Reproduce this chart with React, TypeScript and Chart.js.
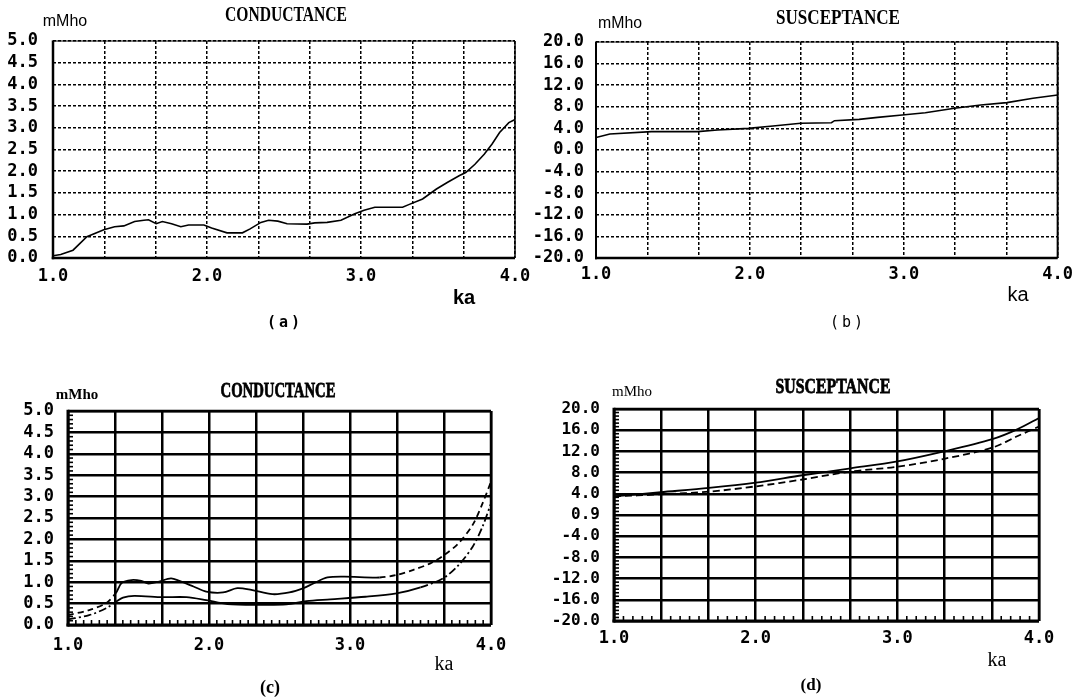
import React, { useEffect, useRef } from 'react';
import { Chart, registerables } from 'chart.js';

Chart.register(...registerables);

// ---------- shared axis definitions ----------
const X_GRID = [1, 1.3333, 1.6667, 2, 2.3333, 2.6667, 3, 3.3333, 3.6667, 4];
const X_TICK_LABELS = ['1.0', '', '', '2.0', '', '', '3.0', '', '', '4.0'];
const G_TICKS = [0, 0.5, 1, 1.5, 2, 2.5, 3, 3.5, 4, 4.5, 5];
const G_TICK_LABELS = ['0.0', '0.5', '1.0', '1.5', '2.0', '2.5', '3.0', '3.5', '4.0', '4.5', '5.0'];
const B_TICKS = [-20, -16, -12, -8, -4, 0, 4, 8, 12, 16, 20];
const B_TICK_LABELS_B = ['-20.0', '-16.0', '-12.0', '-8.0', '-4.0', '0.0', '4.0', '8.0', '12.0', '16.0', '20.0'];
const B_TICK_LABELS_D = ['-20.0', '-16.0', '-12.0', '-8.0', '-4.0', '0.9', '4.0', '8.0', '12.0', '16.0', '20.0'];

const TITLE_G = 'CONDUCTANCE';
const TITLE_B = 'SUSCEPTANCE';
const UNIT = 'mMho';
const X_TITLE = 'ka';
const CAPTIONS = ['(a)', '(b)', '(c)', '(d)'];

// ---------- (a) conductance ----------
const KA_A = [1.0, 1.05, 1.13, 1.22, 1.33, 1.4, 1.46, 1.53, 1.59, 1.62, 1.67, 1.71, 1.77, 1.83, 1.88, 1.98, 2.03, 2.13, 2.23, 2.28, 2.35, 2.4, 2.46, 2.52, 2.65, 2.7, 2.78, 2.87, 2.96, 3.02, 3.09, 3.27, 3.31, 3.4, 3.49, 3.56, 3.64, 3.68, 3.74, 3.8, 3.85, 3.9, 3.96, 4.0];
const G_A = [0.05, 0.08, 0.18, 0.49, 0.65, 0.72, 0.74, 0.84, 0.87, 0.88, 0.79, 0.84, 0.79, 0.72, 0.76, 0.76, 0.69, 0.58, 0.58, 0.67, 0.82, 0.87, 0.85, 0.79, 0.78, 0.81, 0.82, 0.87, 1.02, 1.1, 1.17, 1.17, 1.23, 1.36, 1.59, 1.74, 1.9, 1.97, 2.16, 2.39, 2.62, 2.89, 3.12, 3.19];

// ---------- (b) susceptance ----------
const KA_B = [1.0, 1.09, 1.36, 1.66, 1.79, 1.99, 2.15, 2.33, 2.53, 2.55, 2.71, 2.83, 2.99, 3.14, 3.33, 3.5, 3.67, 3.84, 4.0];
const B_B = [2.3, 2.96, 3.4, 3.4, 3.7, 4.0, 4.44, 4.94, 5.06, 5.43, 5.68, 6.05, 6.48, 6.91, 7.72, 8.33, 8.77, 9.57, 10.19];

// ---------- (c) conductance, two curves ----------
const KA_C_UPPER = [1.0, 1.15, 1.27, 1.34, 1.38, 1.45, 1.52, 1.57, 1.64, 1.73, 1.79, 1.89, 1.98, 2.1, 2.2, 2.3, 2.45, 2.57, 2.67, 2.74, 2.84, 2.96, 3.21, 3.33, 3.45, 3.57, 3.67, 3.77, 3.87, 3.94, 4.0];
const G_C_UPPER = [0.23, 0.35, 0.51, 0.75, 0.98, 1.05, 1.03, 0.97, 1.01, 1.09, 1.03, 0.9, 0.78, 0.76, 0.86, 0.82, 0.72, 0.76, 0.86, 0.97, 1.11, 1.13, 1.11, 1.17, 1.29, 1.44, 1.64, 1.91, 2.34, 2.84, 3.35];
const KA_C_LOWER = [1.0, 1.15, 1.27, 1.34, 1.39, 1.47, 1.67, 1.84, 1.98, 2.13, 2.35, 2.55, 2.69, 2.86, 3.11, 3.33, 3.5, 3.66, 3.77, 3.87, 3.94, 4.0];
const G_C_LOWER = [0.13, 0.23, 0.39, 0.54, 0.64, 0.68, 0.65, 0.65, 0.58, 0.49, 0.47, 0.48, 0.56, 0.6, 0.66, 0.74, 0.88, 1.09, 1.4, 1.83, 2.3, 2.84];

// ---------- (d) susceptance, two curves ----------
const KA_D = [1.0, 1.33, 1.67, 2.0, 2.33, 2.67, 3.0, 3.33, 3.67, 3.85, 4.0];
const B_D_SOLID = [3.5, 4.3, 5.1, 6.1, 7.5, 8.8, 10.1, 12.0, 14.3, 16.2, 18.3];
const B_D_DASHED = [3.5, 3.9, 4.4, 5.4, 6.7, 8.2, 9.1, 10.6, 12.7, 14.9, 16.7];

const pts = (xs: number[], ys: number[]) => xs.map((x, i) => ({ x, y: ys[i] }));

type TextItem = { text: string; x: number; y: number; font: string; maxWidth?: number; stroke?: number; spacing?: number };
type Panel = {
  left: number; top: number; w: number; h: number;
  area: { l: number; t: number; r: number; b: number };
  yTicks: number[]; yLabels: string[];
  yFont: number; yPad: number; xFont: number; xPad: number;
  gridWidth: number; gridDash: number[];
  frame: { left: number; bottom: number; top: number; right: number };
  minor?: { x: number; y: number; len: number };
  datasets: any[];
  texts: TextItem[];
};

const XH = 40;
const MONO = '"DejaVu Sans Mono"';

const PANELS: Panel[] = [
  {
    left: 0, top: 0, w: 540, h: 340,
    area: { l: 53, t: 41, r: 515, b: 258 },
    yTicks: G_TICKS, yLabels: G_TICK_LABELS,
    yFont: 17, yPad: 15, xFont: 17, xPad: 8,
    gridWidth: 1.5, gridDash: [3, 2],
    frame: { left: 2.5, bottom: 2.5, top: 1.2, right: 1.5 },
    datasets: [
      { data: pts(KA_A, G_A), borderColor: '#000', borderWidth: 1.6, pointRadius: 0, tension: 0 },
    ],
    texts: [
      { text: TITLE_G, x: 286, y: 16, font: 'bold 20px "Liberation Serif"', maxWidth: 122 },
      { text: UNIT, x: 65, y: 22, font: '16px "Liberation Sans"', maxWidth: 45 },
      { text: X_TITLE, x: 464, y: 298, font: 'bold 20px "Liberation Sans"' },
      { text: CAPTIONS[0], x: 285, y: 323, font: `bold 15px ${MONO}`, spacing: 3 },
    ],
  },
  {
    left: 530, top: 0, w: 549, h: 340,
    area: { l: 596, t: 42, r: 1063, b: 258 },
    yTicks: B_TICKS, yLabels: B_TICK_LABELS_B,
    yFont: 17, yPad: 12, xFont: 17, xPad: 6,
    gridWidth: 1.5, gridDash: [3, 2],
    frame: { left: 2, bottom: 2.5, top: 1.2, right: 2 },
    datasets: [
      { data: pts(KA_B, B_B), borderColor: '#000', borderWidth: 1.6, pointRadius: 0, tension: 0 },
    ],
    texts: [
      { text: TITLE_B, x: 308, y: 19, font: 'bold 20px "Liberation Serif"', maxWidth: 124 },
      { text: UNIT, x: 90, y: 24, font: '16px "Liberation Sans"', maxWidth: 44 },
      { text: X_TITLE, x: 488, y: 295, font: '20px "Liberation Sans"' },
      { text: CAPTIONS[1], x: 318, y: 323, font: `15px ${MONO}`, spacing: 3 },
    ],
  },
  {
    left: 0, top: 365, w: 530, h: 335,
    area: { l: 68, t: 411, r: 491, b: 625 },
    yTicks: G_TICKS, yLabels: G_TICK_LABELS,
    yFont: 17, yPad: 14, xFont: 17, xPad: 10,
    gridWidth: 2.5, gridDash: [],
    frame: { left: 3, bottom: 3, top: 2.5, right: 2.5 },
    minor: { x: 6, y: 5, len: 5 },
    datasets: [
      {
        data: pts(KA_C_UPPER, G_C_UPPER), borderColor: '#000', borderWidth: 1.8, pointRadius: 0, tension: 0.3,
        segment: { borderDash: (c: any) => (c.p0.parsed.x < 1.34 || c.p0.parsed.x >= 3.0 ? [6, 4] : undefined) },
      },
      {
        data: pts(KA_C_LOWER, G_C_LOWER), borderColor: '#000', borderWidth: 1.8, pointRadius: 0, tension: 0.3,
        segment: { borderDash: (c: any) => (c.p0.parsed.x < 1.34 || c.p0.parsed.x >= 3.45 ? [8, 3, 2, 3] : undefined) },
      },
    ],
    texts: [
      { text: TITLE_G, x: 278, y: 27, font: 'bold 21px "Liberation Serif"', maxWidth: 115, stroke: 0.8 },
      { text: UNIT, x: 77, y: 30, font: 'bold 15px "Liberation Serif"', maxWidth: 43 },
      { text: X_TITLE, x: 444, y: 300, font: '20px "Liberation Serif"' },
      { text: CAPTIONS[2], x: 270, y: 323, font: 'bold 18px "Liberation Serif"' },
    ],
  },
  {
    left: 530, top: 365, w: 549, h: 335,
    area: { l: 614, t: 409, r: 1039, b: 621 },
    yTicks: B_TICKS, yLabels: B_TICK_LABELS_D,
    yFont: 16, yPad: 14, xFont: 17, xPad: 7,
    gridWidth: 2.5, gridDash: [],
    frame: { left: 3, bottom: 3, top: 2.5, right: 2.5 },
    minor: { x: 5, y: 6, len: 5 },
    datasets: [
      { data: pts(KA_D, B_D_SOLID), borderColor: '#000', borderWidth: 1.8, pointRadius: 0, tension: 0.3 },
      { data: pts(KA_D, B_D_DASHED), borderColor: '#000', borderWidth: 1.8, pointRadius: 0, tension: 0.3, borderDash: [7, 4] },
    ],
    texts: [
      { text: TITLE_B, x: 303, y: 23, font: 'bold 21px "Liberation Serif"', maxWidth: 115, stroke: 0.8 },
      { text: UNIT, x: 102, y: 27, font: '15px "Liberation Serif"', maxWidth: 40 },
      { text: X_TITLE, x: 467, y: 296, font: '20px "Liberation Serif"' },
      { text: CAPTIONS[3], x: 281, y: 321, font: 'bold 17px "Liberation Serif"' },
    ],
  },
];

function makeDecor(p: Panel) {
  return {
    id: 'decor',
    beforeDatasetsDraw(chart: any) {
      const { ctx, chartArea: a } = chart;
      ctx.save();
      ctx.strokeStyle = '#000';
      ctx.setLineDash([]);
      const line = (x1: number, y1: number, x2: number, y2: number, w: number) => {
        if (!w) return;
        ctx.lineWidth = w;
        ctx.beginPath();
        ctx.moveTo(x1, y1);
        ctx.lineTo(x2, y2);
        ctx.stroke();
      };
      const f = p.frame;
      line(a.left, a.top, a.right, a.top, f.top);
      line(a.right, a.top, a.right, a.bottom, f.right);
      line(a.left, a.top - f.top / 2, a.left, a.bottom + f.bottom / 2, f.left);
      line(a.left - f.left / 2, a.bottom, a.right, a.bottom, f.bottom);
      if (p.minor) {
        const xs = chart.scales.x;
        const ys = chart.scales.y;
        const xt = xs.ticks.map((t: any) => t.value);
        for (let i = 0; i < xt.length - 1; i++) {
          for (let k = 1; k < p.minor.x; k++) {
            const px = xs.getPixelForValue(xt[i] + ((xt[i + 1] - xt[i]) * k) / p.minor.x);
            line(px, a.bottom, px, a.bottom - p.minor.len, 1.6);
          }
        }
        const yt = ys.ticks.map((t: any) => t.value);
        for (let i = 0; i < yt.length - 1; i++) {
          for (let k = 1; k < p.minor.y; k++) {
            const py = ys.getPixelForValue(yt[i] + ((yt[i + 1] - yt[i]) * k) / p.minor.y);
            line(a.left, py, a.left + p.minor.len, py, 1.6);
          }
        }
      }
      ctx.restore();
    },
    afterDraw(chart: any) {
      const ctx = chart.ctx;
      ctx.save();
      ctx.fillStyle = '#000';
      ctx.strokeStyle = '#000';
      ctx.textAlign = 'center';
      ctx.textBaseline = 'middle';
      for (const t of p.texts) {
        ctx.font = t.font;
        (ctx as any).letterSpacing = t.spacing ? `${t.spacing}px` : '0px';
        if (t.maxWidth) ctx.fillText(t.text, t.x, t.y, t.maxWidth);
        else ctx.fillText(t.text, t.x, t.y);
        if (t.stroke) {
          ctx.lineWidth = t.stroke;
          if (t.maxWidth) ctx.strokeText(t.text, t.x, t.y, t.maxWidth);
          else ctx.strokeText(t.text, t.x, t.y);
        }
      }
      ctx.restore();
    },
  };
}

function buildConfig(p: Panel): any {
  const yVals = p.yTicks;
  return {
    type: 'line',
    data: { datasets: p.datasets.map((d) => ({ ...d, fill: false })) },
    plugins: [makeDecor(p)],
    options: {
      animation: false,
      responsive: false,
      devicePixelRatio: 1,
      layout: {
        padding: {
          top: p.area.t - p.top,
          left: 0,
          right: p.left + p.w - p.area.r,
          bottom: p.top + p.h - p.area.b - XH,
        },
      },
      plugins: { legend: { display: false }, tooltip: { enabled: false }, title: { display: false } },
      scales: {
        x: {
          type: 'linear',
          min: X_GRID[0],
          max: X_GRID[X_GRID.length - 1],
          afterBuildTicks: (s: any) => { s.ticks = X_GRID.map((v) => ({ value: v })); },
          afterFit: (s: any) => { s.height = XH; },
          grid: { color: '#000', lineWidth: p.gridWidth, drawTicks: false },
          border: { display: false, dash: p.gridDash },
          ticks: {
            autoSkip: false, maxRotation: 0, minRotation: 0, color: '#000', padding: p.xPad,
            font: { family: 'DejaVu Sans Mono', size: p.xFont, weight: 'bold' },
            callback: (_v: any, i: number) => X_TICK_LABELS[i],
          },
        },
        y: {
          type: 'linear',
          min: yVals[0],
          max: yVals[yVals.length - 1],
          afterBuildTicks: (s: any) => { s.ticks = yVals.map((v) => ({ value: v })); },
          afterFit: (s: any) => { s.width = p.area.l - p.left; },
          grid: { color: '#000', lineWidth: p.gridWidth, drawTicks: false },
          border: { display: false, dash: p.gridDash },
          ticks: {
            autoSkip: false, color: '#000', padding: p.yPad,
            font: { family: 'DejaVu Sans Mono', size: p.yFont, weight: 'bold' },
            callback: (_v: any, i: number) => p.yLabels[i],
          },
        },
      },
    },
  };
}

function PanelChart({ panel }: { panel: Panel }) {
  const ref = useRef<HTMLCanvasElement | null>(null);
  useEffect(() => {
    if (!ref.current) return;
    const chart = new Chart(ref.current, buildConfig(panel));
    return () => chart.destroy();
  }, [panel]);
  return (
    <canvas
      ref={ref}
      width={panel.w}
      height={panel.h}
      style={{ position: 'absolute', left: panel.left, top: panel.top, width: panel.w, height: panel.h }}
    />
  );
}

export default function App() {
  return (
    <div style={{ position: 'absolute', left: 0, top: 0, width: 1079, height: 700, background: '#fff', overflow: 'hidden' }}>
      {PANELS.map((p, i) => (
        <PanelChart key={i} panel={p} />
      ))}
    </div>
  );
}
